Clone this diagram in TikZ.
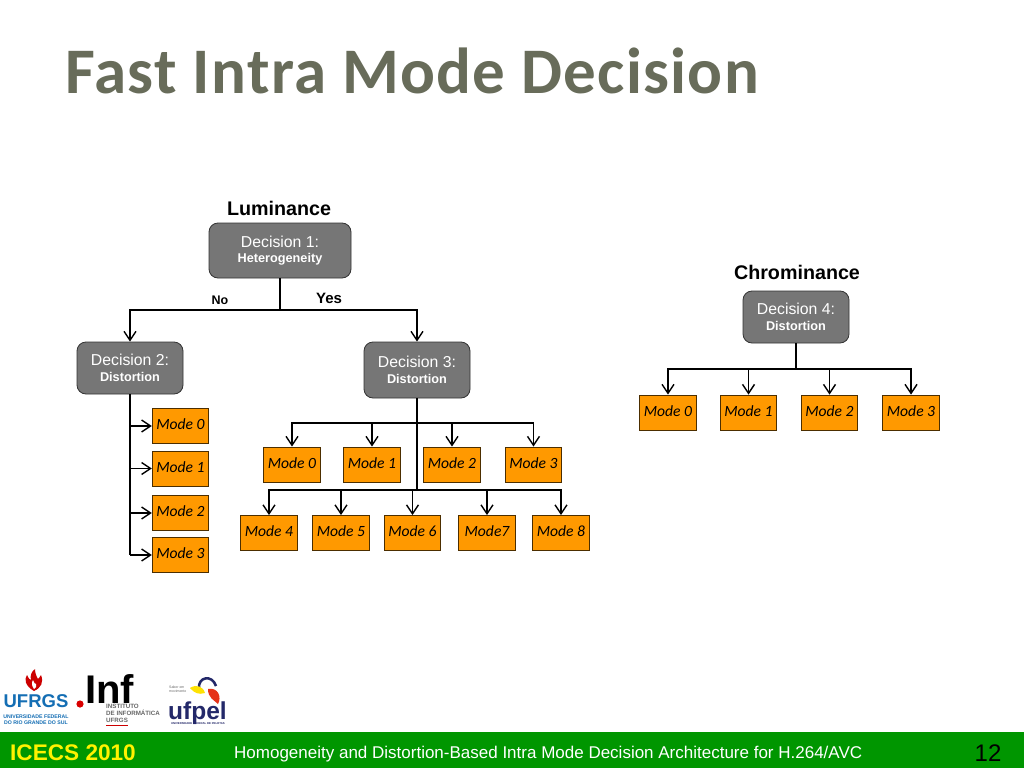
\documentclass[tikz,border=0pt]{standalone}
\usepackage{fontspec}
\setmainfont{Liberation Sans}
\newfontfamily\carlito{Carlito}
\newfontfamily\titlefont[LetterSpace=2]{Carlito}
\usetikzlibrary{arrows.meta,calc}
\definecolor{decgray}{RGB}{118,118,118}
\definecolor{modeor}{RGB}{255,153,0}
\definecolor{footgreen}{RGB}{0,150,0}
\definecolor{titlecol}{RGB}{104,108,90}
\definecolor{ufblue}{RGB}{20,110,180}
\definecolor{pelblue}{RGB}{35,40,105}
\tikzset{
  x=1pt,y=-1pt,
  decbox/.style={draw=black!80,line width=0.8pt,fill=decgray,rounded corners=9pt,text=white,align=center,inner sep=0pt,font=\fontsize{15.8}{16}\selectfont},
  modebox/.style={draw=black!70!modeor,line width=0.8pt,fill=modeor,inner sep=0pt,minimum width=56.5pt,minimum height=35pt,text height=10pt,text depth=3pt,font=\carlito\itshape\fontsize{15.6}{17}\selectfont,text=black},
  conn/.style={draw=black,line width=1.6pt},
  trunk/.style={draw=black,line width=2.4pt},
  arr/.style={draw=black,line width=1.6pt,-{Straight Barb[length=9pt,width=12pt,line width=1.4pt]}},
  heading/.style={font=\bfseries\fontsize{19.7}{21}\selectfont,text=black,inner sep=0pt},
  lab/.style={font=\bfseries,text=black,inner sep=0pt},
}
\newcommand{\subl}[1]{\\[-0.5pt]{\bfseries\fontsize{12.7}{14}\selectfont #1}}
\begin{document}
\begin{tikzpicture}
\useasboundingbox (0,0) rectangle (1024,768);
\fill[white] (0,0) rectangle (1024,768);
% title
\node[anchor=base west,inner sep=0pt,text=titlecol,font=\titlefont\bfseries\fontsize{65}{70}\selectfont] (title) at (65,93) {Fast Intra Mode Decision};
% headings
\node[heading] (lum) at (279,208) {Luminance};
\node[heading] (chr) at (797,272) {Chrominance};
% decisions
\node[decbox,minimum width=142pt,minimum height=55pt] (d1) at (280,250.5) {Decision 1:\subl{Heterogeneity}};
\node[decbox,minimum width=106pt,minimum height=52pt] (d2) at (130,368) {Decision 2:\subl{Distortion}};
\node[decbox,minimum width=106pt,minimum height=56pt] (d3) at (417,370) {Decision 3:\subl{Distortion}};
\node[decbox,minimum width=106pt,minimum height=52pt] (d4) at (796,317) {Decision 4:\subl{Distortion}};
% left modes
\node[modebox] (l0) at (180.5,426) {Mode 0};
\node[modebox] (l1) at (180.5,468.5) {Mode 1};
\node[modebox] (l2) at (180.5,513) {Mode 2};
\node[modebox] (l3) at (180.5,555) {Mode 3};
% middle row 1
\node[modebox] (a0) at (292,464.5) {Mode 0};
\node[modebox] (a1) at (372,464.5) {Mode 1};
\node[modebox] (a2) at (452,464.5) {Mode 2};
\node[modebox] (a3) at (533.5,464.5) {Mode 3};
% middle row 2
\node[modebox] (b4) at (269,533) {Mode 4};
\node[modebox] (b5) at (341,533) {Mode 5};
\node[modebox] (b6) at (412.5,533) {Mode 6};
\node[modebox] (b7) at (487,533) {Mode7};
\node[modebox] (b8) at (561,533) {Mode 8};
% chroma
\node[modebox] (c0) at (668,412.5) {Mode 0};
\node[modebox] (c1) at (748.5,412.5) {Mode 1};
\node[modebox] (c2) at (829.5,412.5) {Mode 2};
\node[modebox] (c3) at (911,412.5) {Mode 3};
% connectors
\coordinate (bus1) at (280,310);
\draw[conn] (d1.south) -- (bus1);
\draw[arr] (bus1) -| (d2.north);
\draw[arr] (bus1) -| (d3.north);
\node[lab,font=\bfseries\fontsize{12.5}{13}\selectfont] (no) at (220,300) {No};
\node[lab,font=\bfseries\fontsize{15}{16}\selectfont] (yes) at (329,298.5) {Yes};
% left trunk
\coordinate (ltrunk) at (d2.south |- l3.west);
\draw[conn] (d2.south) -- (ltrunk);
\foreach \m in {l0,l1,l2,l3}{\draw[arr] (d2.south |- \m.west) -- (\m.west);}
% mid trunk
\coordinate (rowA) at (417,423);
\coordinate (rowB) at (417,490);
\draw[arr] (rowA) -| (a0.north);
\draw[arr] (rowA) -| (a1.north);
\draw[arr] (rowA) -| (a2.north);
\draw[arr] (rowA) -| (a3.north);
\draw[arr] (rowB) -| (b4.north);
\draw[arr] (rowB) -| (b5.north);
\draw[arr] (rowB) -| (b6.north);
\draw[arr] (rowB) -| (b7.north);
\draw[arr] (rowB) -| (b8.north);
\draw[trunk] (d3.south) -- (rowB);
\draw[trunk] (a1.north |- rowA) -- (a2.north |- rowA);
\draw[trunk] (b5.north |- rowB) -- (b7.north |- rowB);
% chroma trunk
\coordinate (rowC) at (796,369);
\draw[arr] (rowC) -| (c0.north);
\draw[arr] (rowC) -| (c1.north);
\draw[arr] (rowC) -| (c2.north);
\draw[arr] (rowC) -| (c3.north);
\draw[trunk] (d4.south) -- (rowC);
% logo UFRGS
\fill[red!80!black] (34,691) .. controls (25,686) and (24,679) .. (27,675) .. controls (29,679) and (30,680) .. (31,680) .. controls (30,676) and (31,672) .. (35,669) .. controls (35,674) and (37,677) .. (38,679) .. controls (39,678) and (40,677) .. (41,675) .. controls (44,682) and (41,688) .. (34,691) -- cycle;
\fill[white] (34,689) .. controls (32,686) and (31,683) .. (33,680) .. controls (34,683) and (35,684) .. (36,684) .. controls (37,686) and (36,688) .. (34,689) -- cycle;
\node[inner sep=0pt,text=ufblue,font=\bfseries\fontsize{18.5}{19}\selectfont] (ufrgs) at (36,701) {UFRGS};
\node[inner sep=0pt,text=ufblue,align=center,font=\bfseries\fontsize{5.2}{6}\selectfont] (ufrgs2) at (36,719.5) {UNIVERSIDADE FEDERAL\\DO RIO GRANDE DO SUL};
% logo INF
\fill[red!85!black] (80,704) circle (3.6);
\node[anchor=base west,inner sep=0pt,font=\bfseries\fontsize{40}{40}\selectfont,text=black] (inf) at (85,703.5) {Inf};
\node[anchor=north west,inner sep=0pt,align=left,text=black!60,font=\bfseries\fontsize{6.2}{6.8}\selectfont] (inst) at (106,704) {INSTITUTO\\DE INFORMÁTICA\\UFRGS};
\fill[red!80!black] (106,725) rectangle (128,726);
% logo ufpel
\node[anchor=base west,inner sep=0pt,text=pelblue,font=\bfseries\fontsize{24.5}{25}\selectfont] (pel) at (168,719) {ufpel};
\draw[pelblue,line width=2.5pt] (199,688) .. controls (198,677) and (212,674) .. (216,686);
\fill[yellow!85!orange] (190,688) .. controls (196,684) and (203,686) .. (205,693) .. controls (199,695) and (194,693) .. (190,688) -- cycle;
\fill[red!60!brown] (208,689) .. controls (218,687) and (222,697) .. (218,704) .. controls (214,700) and (208,698) .. (208,689) -- cycle;
\node[anchor=north west,inner sep=0pt,align=left,text=black!60,font=\fontsize{3.5}{4}\selectfont] (saber) at (169,686) {Saber em\\movimento};
\node[inner sep=0pt,text=pelblue,font=\bfseries\fontsize{2.8}{3}\selectfont] (pelsub) at (198,724) {UNIVERSIDADE FEDERAL DE PELOTAS};
% footer
\fill[footgreen] (0,732) rectangle (1024,768);
\node[anchor=base west,inner sep=0pt,text=yellow,font=\bfseries\fontsize{22.6}{24}\selectfont] (conf) at (10,760) {ICECS 2010};
\node[anchor=base west,inner sep=0pt,text=white,font=\fontsize{17}{18}\selectfont] (foot) at (234,758) {Homogeneity and Distortion-Based Intra Mode Decision Architecture for H.264/AVC};
\node[anchor=base,inner sep=0pt,text=black,font=\fontsize{24}{26}\selectfont] (page) at (988,761) {12};
\end{tikzpicture}
\end{document}
